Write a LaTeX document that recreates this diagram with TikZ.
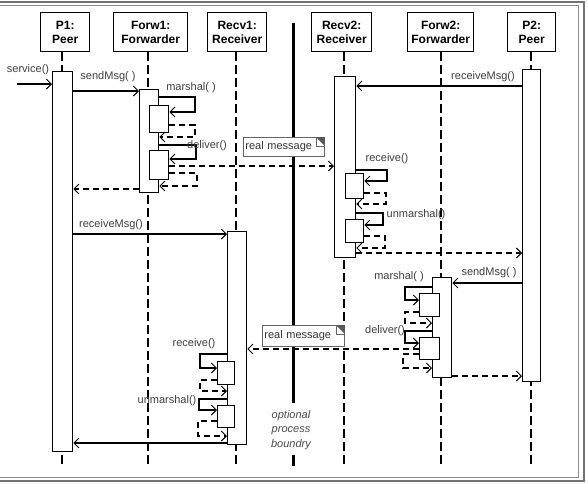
\documentclass[tikz,border=0pt]{standalone}
\usepackage{fontspec}
\setmainfont{Liberation Sans}
\usetikzlibrary{arrows.meta}
\begin{document}
\begin{tikzpicture}[x=1pt,y=-1pt,
 hdr/.style={draw=black,line width=1.4pt,fill=white,font=\fontsize{12}{14}\selectfont\bfseries,align=center,inner sep=0pt,anchor=north west,minimum height=39pt},
 act/.style={draw=black,line width=1.3pt,fill=white,inner sep=0pt,anchor=north west},
 life/.style={line width=1.3pt,dash pattern=on 9pt off 4pt},
 msg/.style={line width=1.1pt,-{Straight Barb[length=5pt,width=10pt,line width=0.9pt]}},
 ret/.style={msg,dash pattern=on 6pt off 4pt},
 lbl/.style={font=\fontsize{11}{13}\selectfont,text=black!75,inner sep=0pt},
 note/.style={draw=black!60,fill=white,line width=0.8pt,anchor=north west,inner xsep=2pt,inner ysep=0pt,align=left,minimum height=19pt,font=\fontsize{11}{13}\selectfont,text=black!80},
 ear/.style={fill=black!65}
]
\useasboundingbox (0,0) rectangle (588,483);
\fill[white] (0,0) rectangle (588,483);
% frame
\draw[black!55,line width=1.2pt] (-2,2) rectangle (584,481);
\draw[black!45,line width=0.8pt] (-2,5.5) rectangle (578,477);

% headers
\node[hdr,minimum width=49pt] (p1) at (40,12) {P1:\\Peer};
\node[hdr,minimum width=74pt] (f1) at (113,12) {Forw1:\\Forwarder};
\node[hdr,minimum width=59pt] (r1) at (207,12) {Recv1:\\Receiver};
\node[hdr,minimum width=60pt] (r2) at (311,12) {Recv2:\\Receiver};
\node[hdr,minimum width=66pt] (f2) at (407,12) {Forw2:\\Forwarder};
\node[hdr,minimum width=48pt] (p2) at (507,12) {P2:\\Peer};

% lifeline x positions
\coordinate (lp1) at (62,0);
\coordinate (lf1) at (148,0);
\coordinate (lr1) at (236,0);
\coordinate (lr2) at (344,0);
\coordinate (lf2) at (441,0);
\coordinate (lp2) at (531,0);
\coordinate (bottom) at (0,466);

% lifelines
\foreach \h/\l in {p1/lp1,f1/lf1,r1/lr1,r2/lr2,f2/lf2,p2/lp2}{
  \draw[life] (\l |- \h.south) -- (\l |- bottom);
}

% process boundary
\coordinate (bt) at (293,23);
\coordinate (bm) at (293,403);
\coordinate (bb1) at (293,455);
\coordinate (bb2) at (293,466);
\draw[line width=3pt] (bt) -- (bm);
\draw[line width=3pt] (bb1) -- (bb2);
\node[font=\fontsize{11}{14.5}\selectfont\itshape,text=black!70,align=center,inner sep=0pt] (bnd) at (291,430) {optional\\process\\boundry};

% activations
\node[act,minimum width=20pt,minimum height=380pt] (p1a) at (52,71) {};
\node[act,minimum width=19pt,minimum height=103pt] (f1a) at (139,89) {};
\node[act,minimum width=19pt,minimum height=213pt] (r1a) at (227,231) {};
\node[act,minimum width=21pt,minimum height=181pt] (r2a) at (334,76) {};
\node[act,minimum width=19pt,minimum height=100pt] (f2a) at (432,277) {};
\node[act,minimum width=18pt,minimum height=312pt] (p2a) at (522,69) {};

% nested activations
\node[act,minimum width=19pt,minimum height=27pt] (f1n1) at (149,105) {};
\node[act,minimum width=19pt,minimum height=29pt] (f1n2) at (149,150) {};
\node[act,minimum width=18pt,minimum height=25pt] (r2n1) at (345,173) {};
\node[act,minimum width=18pt,minimum height=23pt] (r2n2) at (345,219) {};
\node[act,minimum width=20pt,minimum height=23pt] (f2n1) at (419,293) {};
\node[act,minimum width=20pt,minimum height=22pt] (f2n2) at (419,337) {};
\node[act,minimum width=17pt,minimum height=23pt] (r1n1) at (217,361) {};
\node[act,minimum width=17pt,minimum height=22pt] (r1n2) at (217,405) {};

% P1 side
\coordinate (svc) at (17,84);
\draw[msg] (svc) -- (p1a.west |- svc);
\node[lbl] (lsvc) at (28,70) {service()};
\draw[msg] (p1a.east |- 0,91) -- (f1a.west |- 0,91);
\node[lbl] (lsend1) at (108,77) {sendMsg( )};
\draw[msg] (f1a.east |- 0,97) -- (195,97) -- (195,112) -- (f1n1.east |- 0,112);
\node[lbl] (lmar1) at (191,88) {marshal( )};
\draw[ret] (f1n1.east |- 0,125) -- (195,125) -- (195,137) -- (f1a.east |- 0,137);
\draw[msg] (f1a.east |- 0,145) -- (196,145) -- (196,159) -- (f1n2.east |- 0,159);
\node[lbl] (ldel1) at (207,146) {deliver()};
\draw[ret] (f1n2.east |- 0,166) -- (r2a.west |- 0,166);
\draw[ret] (f1n2.east |- 0,173) -- (197,173) -- (197,186) -- (f1a.east |- 0,186);
\draw[ret] (f1a.west |- 0,189) -- (p1a.east |- 0,189);

\draw[msg] (p1a.east |- 0,234) -- (r1a.west |- 0,234);
\node[lbl] (lrm1) at (111,225) {receiveMsg()};
\draw[msg] (r1a.west |- 0,354) -- (200,354) -- (200,368) -- (r1n1.west |- 0,368);
\node[lbl] (lrec1) at (194,344) {receive()};
\draw[ret] (r1n1.west |- 0,380) -- (200,380) -- (200,391) -- (r1a.west |- 0,391);
\draw[msg] (r1a.west |- 0,399) -- (199,399) -- (199,410) -- (r1n2.west |- 0,410);
\node[lbl] (lunm1) at (167,401) {unmarshal()};
\draw[ret] (r1n2.west |- 0,421) -- (198,421) -- (198,436) -- (r1a.west |- 0,436);
\draw[msg] (r1a.west |- 0,443) -- (p1a.east |- 0,443);

% P2 side
\draw[msg] (p2a.west |- 0,86) -- (r2a.east |- 0,86);
\node[lbl] (lrm2) at (483,77) {receiveMsg()};
\draw[msg] (r2a.east |- 0,170) -- (387,170) -- (387,181) -- (r2n1.east |- 0,181);
\node[lbl] (lrec2) at (387,159) {receive()};
\draw[ret] (r2n1.east |- 0,193) -- (386,193) -- (386,204) -- (r2a.east |- 0,204);
\draw[msg] (r2a.east |- 0,213) -- (383,213) -- (383,225) -- (r2n2.east |- 0,225);
\node[lbl] (lunm2) at (416,215) {unmarshal()};
\draw[ret] (r2n2.east |- 0,236) -- (385,236) -- (385,248) -- (r2a.east |- 0,248);
\draw[ret] (r2a.east |- 0,253) -- (p2a.west |- 0,253);

\draw[msg] (p2a.west |- 0,283) -- (f2a.east |- 0,283);
\node[lbl] (lsend2) at (489,273) {sendMsg( )};
\draw[msg] (f2a.west |- 0,287) -- (405,287) -- (405,300) -- (f2n1.west |- 0,300);
\node[lbl] (lmar2) at (399,277) {marshal( )};
\draw[ret] (f2n1.west |- 0,312) -- (405,312) -- (405,323) -- (f2a.west |- 0,323);
\draw[msg] (f2a.west |- 0,331) -- (405,331) -- (405,343) -- (f2n2.west |- 0,343);
\node[lbl] (ldel2) at (385,331) {deliver()};
\draw[ret] (f2n2.west |- 0,349) -- (r1a.east |- 0,349);
\draw[ret] (f2n2.west |- 0,354) -- (403,354) -- (403,368) -- (f2a.west |- 0,368);
\draw[ret] (f2a.east |- 0,376) -- (p2a.west |- 0,376);

% notes
\node[note,text width=77pt] (n1) at (243,137) {real message};
\fill[ear] (n1.north east) -- ++(-9,0) -- ++(9,9) -- cycle;
\draw[black!60,line width=0.6pt] (n1.north east) ++(-9,0) -- ++(0,9) -- ++(9,0);
\node[note,text width=78pt,minimum height=21pt] (n2) at (262,325) {real message};
\fill[ear] (n2.north east) -- ++(-9,0) -- ++(9,9) -- cycle;
\draw[black!60,line width=0.6pt] (n2.north east) ++(-9,0) -- ++(0,9) -- ++(9,0);
\end{tikzpicture}
\end{document}
